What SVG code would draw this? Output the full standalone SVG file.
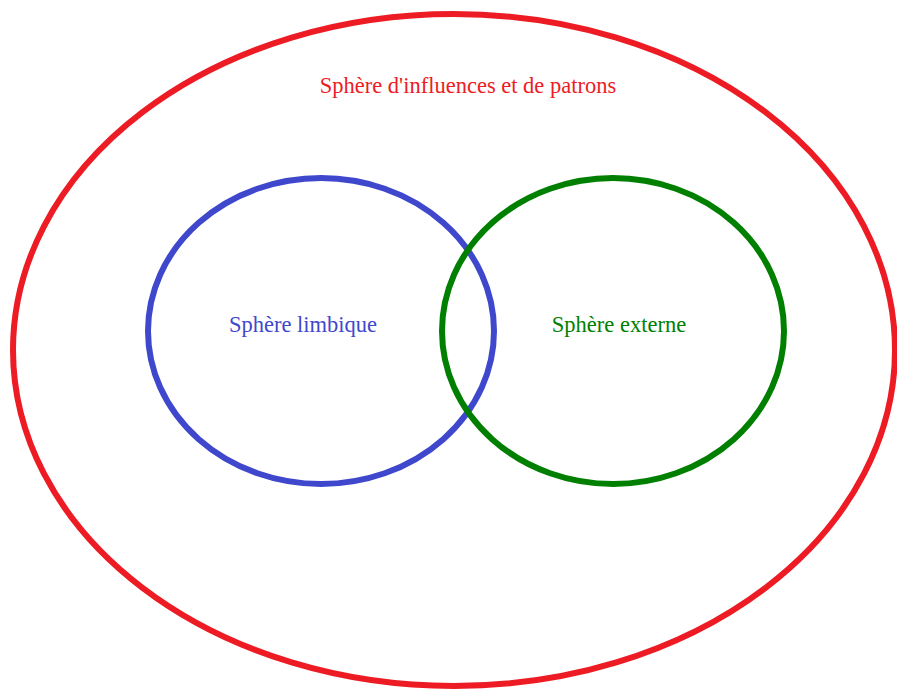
<svg xmlns="http://www.w3.org/2000/svg" width="897" height="691" viewBox="0 0 897 691">
<style>
.e{fill:none;stroke-width:6}
.t{font-family:"Liberation Serif","Times New Roman",serif;font-size:22.5px;text-anchor:middle}
</style>
<rect width="897" height="691" fill="#fff"/>
<g id="influences">
<ellipse class="e" cx="454" cy="350" rx="441" ry="336" stroke="#ED1C24"/>
<text class="t" x="468" y="93" fill="#ED1C24">Sphère d'influences et de patrons</text>
</g>
<g id="limbique">
<ellipse class="e" cx="321" cy="331" rx="173" ry="153" stroke="#3F48CC"/>
<text class="t" x="303" y="332" fill="#3F48CC">Sphère limbique</text>
</g>
<g id="externe">
<ellipse class="e" cx="613" cy="331" rx="171" ry="153" stroke="#007F00"/>
<text class="t" x="619" y="332" fill="#007F00">Sphère externe</text>
</g>
<g id="connectors"/>
</svg>
